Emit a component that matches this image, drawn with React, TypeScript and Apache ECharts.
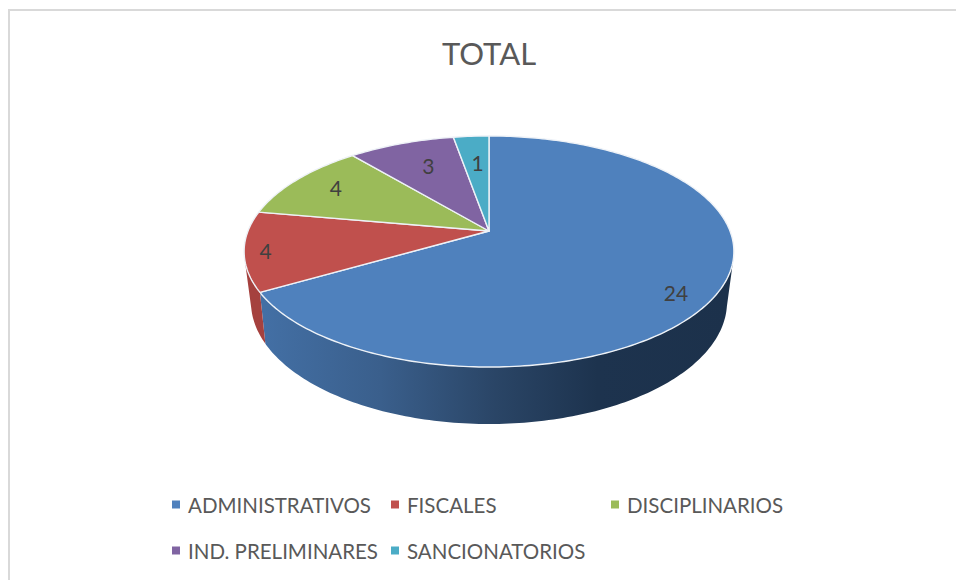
import React, { useEffect, useRef } from "react";
import * as echarts from "echarts";

const categories = ["ADMINISTRATIVOS", "FISCALES", "DISCIPLINARIOS", "IND. PRELIMINARES", "SANCIONATORIOS"];
const values = [24, 4, 4, 3, 1];
const colors = ["#4f81bd", "#c0504d", "#9bbb59", "#8064a2", "#4bacc6"];
const titleText = "TOTAL";

const FONT = "Lato, 'Open Sans', sans-serif";
const CX = 489;
const topPlane = { y0: 231, S: 111.9, R: 241, k: 0.1775 };
const bottomPlane = { y0: 278.8, S: 117.6, R: 233.7, k: 0.19 };
// visible wall range (clockwise degrees from 12 o'clock) clipped to the silhouette
const WALL_FROM = 103;
const WALL_TO = 256;
const labelRadius = [0.83, 0.915, 0.785, 0.66, 0.6];
const labelNudge = [11, 1, -2, -5, -8];
const legendSlots = [
  { left: 172, top: 494 },
  { left: 391, top: 494 },
  { left: 611, top: 494 },
  { left: 172, top: 540 },
  { left: 391, top: 540 },
];

type Plane = typeof topPlane;
const project = (p: Plane, deg: number, f = 1): number[] => {
  const a = (deg * Math.PI) / 180;
  const u = Math.sin(a) * f;
  const v = Math.cos(a) * f;
  const d = 1 + p.k * v;
  return [CX + (p.R * u) / d, p.y0 - (p.S * v) / d];
};
const arc = (p: Plane, from: number, to: number): number[][] => {
  const out: number[][] = [];
  const n = Math.max(2, Math.ceil(Math.abs(to - from)));
  for (let i = 0; i <= n; i++) out.push(project(p, from + ((to - from) * i) / n));
  return out;
};

const total = values.reduce((a, b) => a + b, 0);
const starts = values.map((_, i) => (values.slice(0, i).reduce((a, b) => a + b, 0) / total) * 360);

const wallFill = (i: number): any => {
  if (i === 0) {
    return {
      type: "linear", global: true, x: 265, y: 0, x2: 727, y2: 0,
      colorStops: [
        { offset: 0, color: "#436fa4" },
        { offset: 0.25, color: "#3a5f8c" },
        { offset: 0.5, color: "#2a4566" },
        { offset: 0.72, color: "#1d334e" },
        { offset: 1, color: "#1c314b" },
      ],
    };
  }
  return "#a5413e";
};

const makeRender = (i: number) => () => {
  const from = starts[i];
  const to = from + (values[i] / total) * 360;
  const children: any[] = [];
  const wa = Math.max(from, WALL_FROM);
  const wb = Math.min(to, WALL_TO);
  if (wb > wa) {
    children.push({
      type: "polygon",
      shape: { points: [...arc(topPlane, wa, wb), ...arc(bottomPlane, wb, wa)] },
      style: { fill: wallFill(i), stroke: "none", lineWidth: 0 },
    });
  }
  children.push({
    type: "polygon",
    shape: { points: [[CX, topPlane.y0], ...arc(topPlane, from, to)] },
    style: { fill: colors[i], stroke: "#eef2f7", lineWidth: 1.4, lineJoin: "round" },
  });
  const [lx, ly] = project(topPlane, (from + to) / 2, labelRadius[i]);
  children.push({
    type: "text",
    style: {
      text: String(values[i]), x: lx, y: ly + labelNudge[i],
      fill: "#404040", font: `21px ${FONT}`, textAlign: "center", textVerticalAlign: "middle",
    },
  });
  return { type: "group", children };
};

export default function App() {
  const ref = useRef<HTMLDivElement>(null);
  useEffect(() => {
    const chart = echarts.init(ref.current!, undefined, { renderer: "svg" });
    chart.setOption({
      animation: false,
      backgroundColor: "#ffffff",
      title: {
        text: titleText, left: 484, top: 32, textAlign: "center",
        textStyle: { color: "#595959", fontFamily: FONT, fontSize: 31, fontWeight: "normal" },
      },
      legend: categories.map((name, i) => ({
        data: [name],
        left: legendSlots[i].left,
        top: legendSlots[i].top,
        padding: 0,
        itemWidth: 8,
        itemHeight: 8,
        icon: "rect",
        textStyle: { color: "#595959", fontFamily: FONT, fontSize: 20.5, padding: [0, 0, 0, 3] },
        selectedMode: false,
      })),
      graphic: [
        { type: "rect", shape: { x: 8, y: 9, width: 2, height: 571 }, style: { fill: "#d9d9d9" } },
        { type: "rect", shape: { x: 8, y: 9, width: 948, height: 2 }, style: { fill: "#d9d9d9" } },
      ],
      series: categories.map((name, i) => ({
        type: "custom",
        name,
        coordinateSystem: "none",
        data: [[values[i]]],
        itemStyle: { color: colors[i] },
        renderItem: makeRender(i),
        silent: true,
      })),
    });
    return () => chart.dispose();
  }, []);
  return <div ref={ref} style={{ position: "absolute", left: 0, top: 0, width: 956, height: 580 }} />;
}
